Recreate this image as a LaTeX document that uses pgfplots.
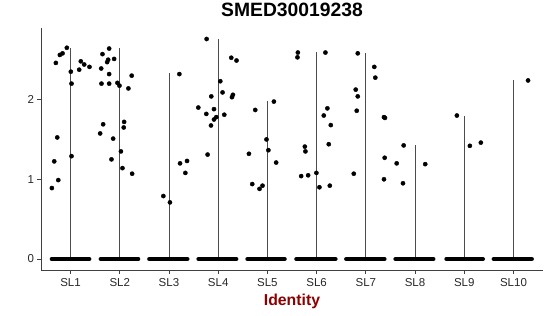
\documentclass[border=0pt]{standalone}
\usepackage{fontspec}
\setmainfont{Liberation Sans}
\usepackage{pgfplots}
\pgfplotsset{compat=1.18}
\definecolor{idred}{RGB}{139,0,0}
\definecolor{tickgray}{RGB}{40,40,40}
\begin{document}
\begin{tikzpicture}
\useasboundingbox (-41bp,-46bp) rectangle (509bp,270bp);
\begin{axis}[
  scale only axis, width=502bp, height=242bp,
  at={(0,0)}, anchor=south west,
  xmin=0.4, xmax=10.6, ymin=-0.138, ymax=2.898,
  axis x line*=bottom, axis y line*=left,
  axis line style={black!75, line width=0.9bp, -},
  xtick={1,2,3,4,5,6,7,8,9,10},
  xticklabels={SL1,SL2,SL3,SL4,SL5,SL6,SL7,SL8,SL9,SL10},
  ytick={0,1,2},
  tick align=outside, major tick length=3.5bp,
  tick style={black!75, line width=0.9bp},
  ticklabel style={font=\fontsize{11.5bp}{13bp}\selectfont, text=tickgray},
  /pgf/number format/assume math mode=true,
  xticklabel style={anchor=base, yshift=-13.4bp},
  title={SMED30019238},
  title style={font=\fontsize{19.3bp}{22bp}\selectfont\bfseries, at={(0.5,1)}, anchor=base, yshift=6bp},
  xlabel={Identity},
  xlabel style={font=\fontsize{15.8bp}{18bp}\selectfont\bfseries, text=idred, at={(0.5,0)}, anchor=base, yshift=-35bp},
  clip=false,
  unbounded coords=jump,
]
% violins (thin)
\addplot[ycomb, black!70, line width=0.9bp, no marks] coordinates {
(1,2.65) (2,2.65) (3,2.33) (4,2.76) (5,1.98) (6,2.60) (7,2.58) (8,1.43) (9,1.80) (10,2.24)};
% zero bands
\addplot[black, line width=4.2bp, line cap=round, no marks] coordinates {
(0.619,0) (1.381,0) (nan,nan)
(1.613,0) (2.375,0) (nan,nan)
(2.600,0) (3.375,0) (nan,nan)
(3.600,0) (4.369,0) (nan,nan)
(4.594,0) (5.351,0) (nan,nan)
(5.588,0) (6.385,0) (nan,nan)
(6.602,0) (7.379,0) (nan,nan)
(7.602,0) (8.373,0) (nan,nan)
(8.637,0) (9.379,0) (nan,nan)
(9.598,0) (10.373,0)};
% jittered points
\addplot[only marks, mark=*, mark size=2.1bp, black] table {
x y
0.925 2.65
0.838 2.58
0.783 2.56
0.702 2.46
1.006 2.35
1.020 2.20
1.209 2.48
1.278 2.44
1.176 2.375
1.385 2.41
0.730 1.525
0.669 1.225
1.020 1.29
0.751 0.99
0.621 0.89
1.785 2.64
1.649 2.57
1.765 2.50
1.744 2.47
1.886 2.51
1.623 2.39
1.785 2.32
2.243 2.30
1.629 2.20
1.785 2.20
1.953 2.21
1.994 2.175
2.176 2.14
2.089 1.72
1.663 1.69
2.081 1.65
1.602 1.575
1.866 1.51
2.024 1.35
1.832 1.25
2.055 1.14
2.252 1.07
3.211 2.32
2.886 0.79
3.020 0.71
3.225 1.20
3.367 1.23
3.333 1.08
3.765 2.76
4.266 2.525
4.373 2.49
4.043 2.23
4.089 2.09
3.860 2.04
4.300 2.06
4.280 2.03
3.596 1.90
3.915 1.88
3.759 1.82
4.124 1.81
3.961 1.78
3.915 1.75
3.854 1.675
3.785 1.31
4.753 1.87
5.132 1.975
4.982 1.50
5.020 1.365
4.625 1.32
5.178 1.21
4.692 0.94
4.840 0.88
4.901 0.92
5.619 2.59
5.611 2.53
6.179 2.59
6.219 1.89
6.146 1.80
6.288 1.68
6.247 1.44
5.761 1.41
5.773 1.35
5.686 1.04
5.828 1.05
5.996 1.08
6.057 0.90
6.268 0.92
6.836 2.58
7.172 2.41
7.193 2.275
6.795 2.125
6.836 2.04
6.815 1.86
7.369 1.78
7.389 1.77
6.755 1.07
7.383 1.27
7.369 1.00
7.769 1.425
7.627 1.20
7.755 0.95
8.207 1.19
8.850 1.80
9.114 1.42
9.337 1.46
10.296 2.24
};
\end{axis}
\end{tikzpicture}
\end{document}
